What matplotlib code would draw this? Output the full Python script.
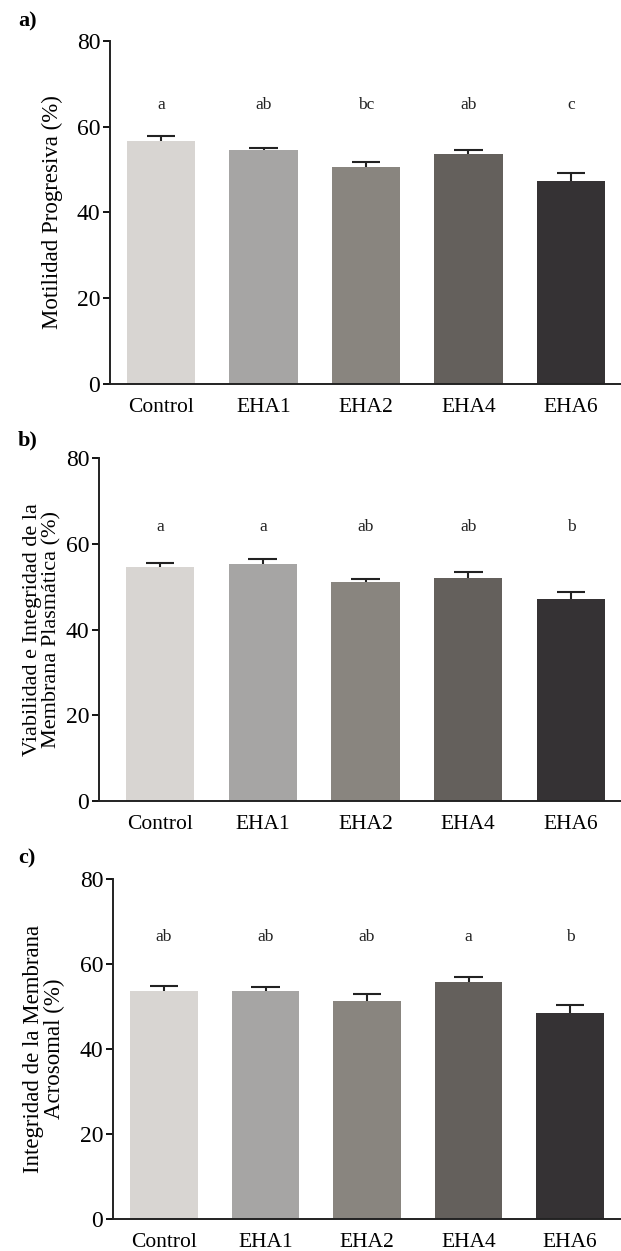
import matplotlib
matplotlib.use("Agg")
import matplotlib.pyplot as plt
import numpy as np

plt.rcParams['font.family'] = ['Liberation Serif', 'DejaVu Serif']

categories = ["Control", "EHA1", "EHA2", "EHA4", "EHA6"]
colors = ["#d8d5d2", "#a6a5a4", "#89857f", "#64605c", "#353234"]

motilidad = [56.6, 54.5, 50.6, 53.6, 47.4]
motilidad_err = [1.3, 0.6, 1.2, 1.0, 1.9]
motilidad_letters = ["a", "ab", "bc", "ab", "c"]

viabilidad = [54.6, 55.2, 51.1, 52.0, 47.1]
viabilidad_err = [1.0, 1.2, 0.7, 1.5, 1.7]
viabilidad_letters = ["a", "a", "ab", "ab", "b"]

acrosomal = [53.6, 53.7, 51.3, 55.7, 48.4]
acrosomal_err = [1.3, 0.9, 1.7, 1.2, 1.9]
acrosomal_letters = ["ab", "ab", "ab", "a", "b"]

yticks = [0, 20, 40, 60, 80]

W, H = 621, 1251
fig = plt.figure(figsize=(W / 100, H / 100), dpi=100)

panels = [
    # label, values, errs, letters, ylabel, axis_x, y0px, y80px, c0, c4, letter_y, label_y, ylabel_right_x, ylabel_size
    ("a)", motilidad, motilidad_err, motilidad_letters, "Motilidad Progresiva (%)",
     110, 384, 41, 161, 571, 65.0, 21, 63, 16.5),
    ("b)", viabilidad, viabilidad_err, viabilidad_letters,
     "Viabilidad e Integridad de la\nMembrana Plasmática (%)",
     99, 801, 458, 160, 571, 63.9, 440, 61, 16),
    ("c)", acrosomal, acrosomal_err, acrosomal_letters,
     "Integridad de la Membrana\nAcrosomal (%)",
     113, 1219, 879, 164, 570, 66.3, 858, 65, 16.5),
]

for (lab, vals, errs, letters, ylabel, ax_x, y0, y80, c0, c4, ly, lab_y, ylx, yls) in panels:
    sp = (c4 - c0) / 4.0
    left = ax_x / W
    width = (W - ax_x) / W
    bottom = 1 - y0 / H
    height = (y0 - y80) / H
    ax = fig.add_axes([left, bottom, width, height])
    x = np.arange(len(categories))
    vals = np.array(vals)
    errs = np.array(errs)
    ax.bar(x, vals, width=0.665, color=colors, edgecolor='none', zorder=2)
    tops = vals + errs
    ax.vlines(x, vals, tops, color='#222222', lw=1.5, zorder=3)
    ax.hlines(tops, x - 0.14, x + 0.14, color='#222222', lw=1.5, zorder=3)
    for xi, t in zip(x, letters):
        ax.text(xi, ly, t, ha='center', va='center', fontsize=12.5, color='#222222')
    ax.set_xlim(-(c0 - ax_x) / sp, 4 + (W - c4) / sp)
    ax.set_ylim(0, 80)
    ax.set_yticks(yticks)
    ax.set_yticklabels([str(v) for v in yticks], fontsize=17)
    ax.set_xticks(x)
    ax.set_xticklabels(categories, fontsize=15.5)
    ax.tick_params(axis='x', length=0, pad=10)
    ax.tick_params(axis='y', length=5, width=1.3, direction='out', pad=2)
    for s in ['top', 'right']:
        ax.spines[s].set_visible(False)
    for s in ['left', 'bottom']:
        ax.spines[s].set_linewidth(1.4)
        ax.spines[s].set_color('#222222')
    ax.set_ylabel(ylabel, fontsize=yls, linespacing=1.0)
    ax.yaxis.set_label_coords((ylx - ax_x) / (W - ax_x), 0.5)
    fig.text(18 / W, 1 - lab_y / H, lab, fontsize=16, fontweight='bold',
             ha='left', va='center')

fig.savefig("out.png", dpi=100)
